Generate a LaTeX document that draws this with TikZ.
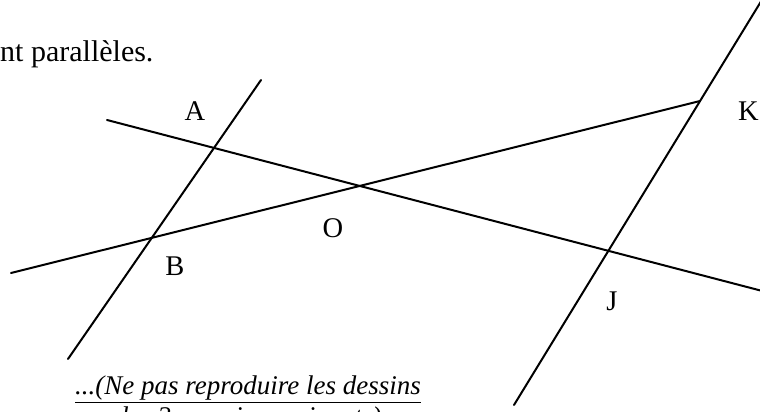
\documentclass[tikz,border=0pt]{standalone}
\usepackage{fontspec}
\setmainfont{Liberation Serif}
\usepackage{tkz-euclide}
\tikzset{ptlabel/.style={font=\fontsize{28.5}{33}\selectfont,inner sep=0pt},
  notetext/.style={font=\fontsize{27}{32}\selectfont,inner sep=0pt}}

\begin{document}
\begin{tikzpicture}[x=10pt,y=10pt]
\useasboundingbox (0,0) rectangle (76,41.2);
\clip (0,0) rectangle (76,41.2);
\tkzSetUpLine[line width=2pt,color=black]

\tkzDefPoints{26.1/33.2/Ut,6.8/5.3/Ub,76.8/42.2/Vt,51.4/0.7/Vb}
\tkzDefPoints{10.7/29.2/P,77/11.9/Q,1.1/13.9/W,70/31.1/K}

\tkzDrawSegments(Ut,Ub Vt,Vb P,Q W,K)

\node[ptlabel] (labA) at (19.5,30.1) {A};
\node[ptlabel] (labK) at (74.85,30.1) {K};
\node[ptlabel] (labO) at (33.3,18.4) {O};
\node[ptlabel] (labB) at (17.5,14.6) {B};
\node[ptlabel] (labJ) at (61.2,11.1) {J};

\node[ptlabel,font=\fontsize{30}{34}\selectfont,anchor=base west] (head) at (0,35.0) {nt parallèles.};
\node[notetext,anchor=base west] (note) at (7.5,1.7) {\underline{\textit{...(Ne pas reproduire les dessins}}};
\node[notetext,anchor=base] (notetwo) at (24.8,-1.3) {\textit{des 2 exercices suivants)}};

\end{tikzpicture}
\end{document}
